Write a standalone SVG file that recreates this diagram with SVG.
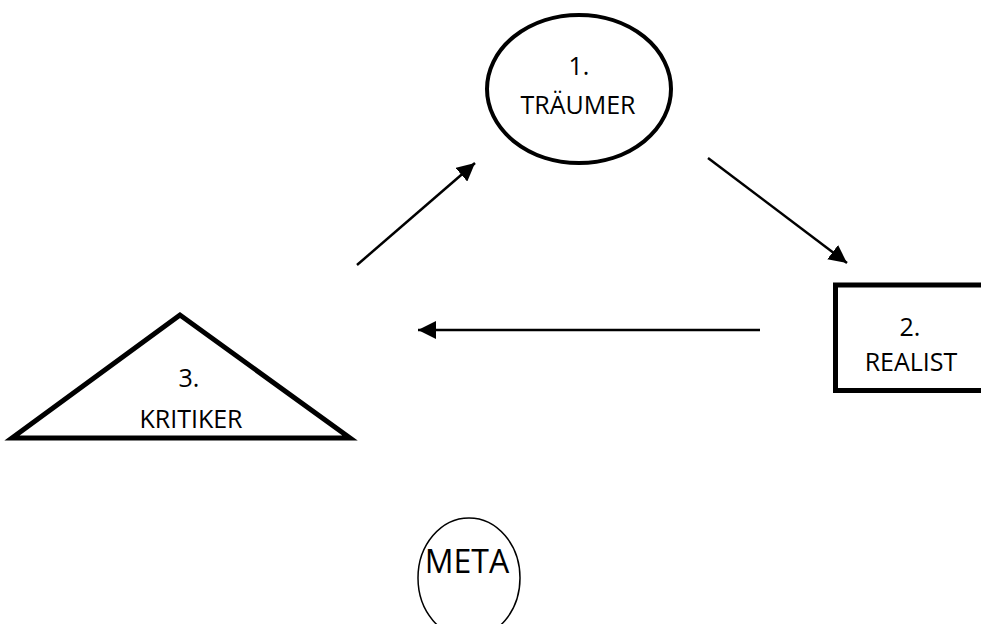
<svg xmlns="http://www.w3.org/2000/svg" width="981" height="624" viewBox="0 0 981 624">
<style>
.lbl{font-family:"Open Sans","Liberation Sans",sans-serif;font-size:25px;fill:#000;text-anchor:middle}
.big{font-size:32px}
.conn{stroke:#000;stroke-width:2.5;fill:none;marker-end:url(#ah)}
</style>
<defs>
<marker id="ah" markerUnits="userSpaceOnUse" markerWidth="18" markerHeight="18" refX="17" refY="8.5" orient="auto" viewBox="0 0 17 17">
<path d="M0,0 L17,8.5 L0,17 z" fill="#000"/>
</marker>
</defs>
<rect width="981" height="624" fill="#fff"/>
<g id="traeumer">
<ellipse cx="579" cy="89" rx="92" ry="74" fill="#fff" stroke="#000" stroke-width="4"/>
<text class="lbl" x="579" y="75">1.</text>
<text class="lbl" x="578" y="114">TRÄUMER</text>
</g>
<g id="realist">
<rect x="835.5" y="285" width="160" height="105.5" fill="#fff" stroke="#000" stroke-width="5"/>
<text class="lbl" x="910" y="336">2.</text>
<text class="lbl" x="911" y="371">REALIST</text>
</g>
<g id="kritiker">
<polygon points="180,315 12,438 350,438" fill="#fff" stroke="#000" stroke-width="5" stroke-linejoin="miter"/>
<text class="lbl" x="189" y="387">3.</text>
<text class="lbl" x="191" y="428">KRITIKER</text>
</g>
<g id="meta">
<ellipse cx="469" cy="578" rx="51" ry="60" fill="#fff" stroke="#000" stroke-width="1.5"/>
<text class="lbl big" x="467" y="573">META</text>
</g>
<g id="connectors">
<line class="conn" x1="357" y1="265" x2="475" y2="163"/>
<line class="conn" x1="708" y1="158" x2="847" y2="263"/>
<line class="conn" x1="760" y1="330" x2="418" y2="330"/>
</g>
</svg>
